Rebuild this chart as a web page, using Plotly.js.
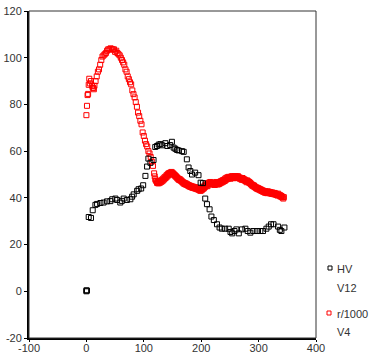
<!DOCTYPE html>
<html>
<head>
<meta charset="utf-8">
<script src="https://cdn.plot.ly/plotly-3.0.1.min.js"></script>
<style>html,body{margin:0;padding:0;background:#fff;}#chart{width:369px;height:356px;}</style>
</head>
<body>
<div id="chart"></div>
<script>
// Series "HV / V12" (black open squares)
const hvX = [0, 1, 0, 4, 8, 11, 15.7, 18.6, 24.4, 30, 36, 41.8, 45, 50.5, 53.5, 59, 61.8, 65, 70.6, 76.6, 79.6, 82.4, 88.4, 91, 95.4, 98.9,
  102.8, 105.7, 108, 111.5, 117, 120, 123, 126, 129, 132, 137.6, 141, 146, 149, 152, 155, 158, 160.8, 166.6, 169.5, 175, 178, 181, 184, 189.5,
  195.3, 199, 203, 207, 210, 214.6, 217.8, 222, 227.5, 232, 236, 241.7, 247.9, 251, 254, 258, 261.3, 265.5, 271, 277, 281, 285.6, 291, 297,
  303, 307.7, 313.6, 317.6, 321.7, 326, 334, 337, 339.7, 345];
const hvY = [0.4, 0.3, 0, 31.8, 31.4, 34.7, 37, 37.4, 37.8, 38, 38.5, 38.6, 39.4, 39.7, 39.1, 38, 38.7, 39.7, 39.1, 39.4, 40.5, 41.5, 43, 43.7, 44, 45.4, 49.4,
  53.4, 56.8, 55, 56.2, 61.8, 62.2, 62.8, 63, 62.5, 63.4, 62.2, 62.6, 64, 61.5, 61, 60.5, 60.3, 60, 59.7, 56.5, 53, 51.5, 50, 50.8, 49.7,
  46.5, 46.3, 39.7, 37.3, 35.1, 32, 30.5, 28.7, 27.3, 26.8, 26.8, 26.8, 25.4, 24.8, 25.8, 26.5, 24.8, 26.5, 26.8, 25.8, 25.1, 25.8, 25.8, 25.8,
  25.8, 26.8, 27.7, 28.7, 28.7, 27.7, 26.3, 25.8, 27.3, 28.3];
// Series "r/1000 / V4" (red open squares)
const rX = [0, 1, 2, 3, 4, 5, 6, 8, 10, 11, 12, 13, 14, 16, 18, 20, 22, 24, 26, 28, 30, 32, 34, 36, 38, 40, 42, 44, 46, 48, 50, 52, 54, 56, 58,
  60, 62, 64, 66, 68, 70, 72, 74, 76, 78, 80, 82, 84, 86, 88, 90, 92, 94, 96, 98, 100, 102, 104, 106, 108, 110, 112, 114, 116, 118,
  119, 120, 121, 122, 123, 124, 125, 126, 127, 128, 129, 130, 131, 132, 133, 134, 135, 136, 137, 138, 139, 140, 141, 142, 143, 144, 145, 146, 147, 148, 149,
  150, 151, 152, 153, 154, 155, 156, 157, 158, 159, 160, 161, 162, 163, 164, 165, 166, 167, 168, 169, 170, 171, 172, 173, 174, 175, 176, 177, 178, 179,
  180, 181, 182, 183, 184, 185, 186, 187, 188, 189, 190, 191, 192, 193, 194, 195, 196, 197, 198, 199, 200, 201, 202, 203, 204, 205, 206, 207, 208, 209,
  210, 211, 212, 213, 214, 215, 216, 217, 218, 219, 220, 221, 222, 223, 224, 225, 226, 227, 228, 229, 230, 231, 232, 233, 234, 235, 236, 237, 238, 239,
  240, 241, 242, 243, 244, 245, 246, 247, 248, 249, 250, 251, 252, 253, 254, 255, 256, 257, 258, 259, 260, 261, 262, 263, 264, 265, 266, 267, 268, 269,
  270, 271, 272, 273, 274, 275, 276, 277, 278, 279, 280, 281, 282, 283, 284, 285, 286, 287, 288, 289, 290, 291, 292, 293, 294, 295, 296, 297, 298, 299,
  300, 301, 302, 303, 304, 305, 306, 307, 308, 309, 310, 311, 312, 313, 314, 315, 316, 317, 318, 319, 320, 321, 322, 323, 324, 325, 326, 327, 328, 329,
  330, 331, 332, 333, 334, 335, 336, 337, 338, 339, 340, 341, 342, 343, 344];
const rY = [75.4, 79.4, 84, 84.5, 88.4, 91, 89, 90, 88, 87.2, 87, 86.5, 88, 90, 92, 94, 95, 97, 99, 100.5, 101, 101.5, 102, 103, 103.6, 103.5, 104, 103.8, 103.5, 103.6, 102.5, 103, 102, 101.5, 101,
  100, 99, 98, 97, 95, 94, 92, 90.8, 89.5, 88.6, 86, 84.4, 83, 81, 79, 76.5, 75, 73, 71.5, 68, 66.5, 64.5, 63, 62, 60, 59, 57.5, 55.5, 53.7, 50.5,
  49.2, 48, 47.4, 47.2, 46.4, 46.8, 46.2, 46.9, 46.3, 47.1, 46.6, 47.4, 46.9, 47.8, 47.3, 48.3, 47.8, 48.8, 48.3, 49.2, 48.7, 49.8, 49.2, 50.3, 49.7, 50.6, 50.1, 50.8, 50.3, 51.1, 50.6,
  50.8, 50.2, 50.3, 49.7, 49.8, 49.2, 49.3, 48.7, 48.8, 48.2, 48.3, 47.7, 48.1, 47.5, 47.8, 47.2, 47.3, 46.7, 46.8, 46.2, 46.5, 45.9, 46.3, 45.7, 46.1, 45.5, 45.8, 45.2, 45.5, 44.9,
  45.3, 44.7, 45.1, 44.5, 44.9, 44.3, 44.8, 44.2, 44.6, 44.0, 44.5, 43.9, 44.3, 43.7, 44.1, 43.5, 43.8, 43.2, 43.6, 43.0, 43.8, 43.3, 44.3, 43.8, 44.7, 44.1, 45.3, 44.7, 45.8, 45.2,
  45.6, 45.0, 46.3, 45.7, 46.6, 46.0, 46.8, 46.2, 46.5, 45.9, 46.3, 45.7, 46.1, 45.5, 46.3, 45.7, 46.8, 46.2, 46.3, 45.7, 46.5, 45.9, 46.8, 46.2, 47.1, 46.5, 47.3, 46.7, 47.6, 47.0,
  47.8, 47.2, 48.3, 47.7, 48.6, 48.0, 48.8, 48.2, 49.0, 48.4, 48.8, 48.2, 49.1, 48.5, 49.3, 48.7, 49.0, 48.4, 49.3, 48.7, 49.3, 48.7, 49.1, 48.5, 49.3, 48.7, 48.8, 48.2, 48.6, 48.0,
  48.3, 47.7, 48.5, 47.9, 48.1, 47.5, 47.8, 47.2, 47.3, 46.7, 47.5, 46.9, 47.1, 46.5, 46.8, 46.2, 46.3, 45.7, 45.8, 45.2, 45.5, 44.9, 45.3, 44.7, 44.8, 44.2, 44.5, 43.9, 44.3, 43.7,
  44.1, 43.5, 43.8, 43.2, 43.6, 43.0, 43.3, 42.7, 43.1, 42.5, 42.8, 42.2, 42.8, 42.2, 42.6, 42.0, 42.8, 42.2, 42.6, 42.0, 42.5, 41.9, 42.3, 41.7, 42.3, 41.7, 42.1, 41.5, 42.1, 41.5,
  41.8, 41.2, 41.6, 41.0, 41.8, 41.2, 41.3, 40.7, 41.1, 40.5, 40.8, 40.2, 40.3, 39.7, 40.3];

const xTicks = [-100, 0, 100, 200, 300, 400];
const yTicks = [-20, 0, 20, 40, 60, 80, 100, 120];
const legendRows = [
  {name: 'HV', sub: 'V12', color: '#000000'},
  {name: 'r/1000', sub: 'V4', color: '#ff0000'}
];

const traces = [
  {x: rX, y: rY, type: 'scatter', mode: 'markers', name: 'r/1000',
   marker: {symbol: 'square-open', size: 5, color: '#ff0000', line: {width: 1, color: '#ff0000'}}, showlegend: false},
  {x: hvX, y: hvY, type: 'scatter', mode: 'markers', name: 'HV',
   marker: {symbol: 'square-open', size: 5, color: '#000000', line: {width: 1, color: '#000000'}}, showlegend: false}
];

const fnt = {family: 'Liberation Sans, Arial, sans-serif', size: 11, color: '#333333'};
const pxX = p => (p - 29) / 287;
const pxY = p => (338 - p) / 327;

const annotations = [];
const shapes = [
  {type: 'rect', xref: 'paper', yref: 'paper', x0: 0, x1: 1, y0: 0, y1: 1, line: {color: '#333333', width: 1}, layer: 'above'}
];
const rowsPx = [[268, 288], [313, 332]];
legendRows.forEach((r, i) => {
  const [y1, y2] = rowsPx[i];
  annotations.push({xref: 'paper', yref: 'paper', x: pxX(335), y: pxY(y1 + 1), xanchor: 'left', yanchor: 'middle', text: r.name, showarrow: false, font: fnt});
  annotations.push({xref: 'paper', yref: 'paper', x: pxX(335), y: pxY(y2), xanchor: 'left', yanchor: 'middle', text: r.sub, showarrow: false, font: fnt});
  const cx = 330 - i, cy = y1;
  shapes.push({type: 'rect', xref: 'paper', yref: 'paper', x0: pxX(cx - 2), x1: pxX(cx + 2), y0: pxY(cy + 2), y1: pxY(cy - 2),
    line: {color: r.color, width: 1}, fillcolor: 'rgba(0,0,0,0)'});
});

const layout = {
  width: 369, height: 356,
  margin: {l: 29, r: 53, t: 11, b: 18, pad: 0},
  paper_bgcolor: '#ffffff', plot_bgcolor: '#ffffff',
  font: fnt,
  showlegend: false,
  xaxis: {range: [-100, 400], tickvals: xTicks, ticktext: xTicks.map(String), showgrid: false, zeroline: false,
    showline: true, linecolor: '#000000', linewidth: 2, ticks: 'outside', ticklen: 2, tickcolor: '#000000', tickfont: fnt,
    ticklabelstandoff: -3},
  yaxis: {range: [-20, 120], tickvals: yTicks, ticktext: yTicks.map(String), showgrid: false, zeroline: false,
    showline: true, linecolor: '#000000', linewidth: 2, ticks: 'outside', ticklen: 3, tickcolor: '#000000', tickfont: fnt},
  annotations: annotations,
  shapes: shapes
};

Plotly.newPlot('chart', traces, layout, {staticPlot: true, displayModeBar: false});
</script>
</body>
</html>
